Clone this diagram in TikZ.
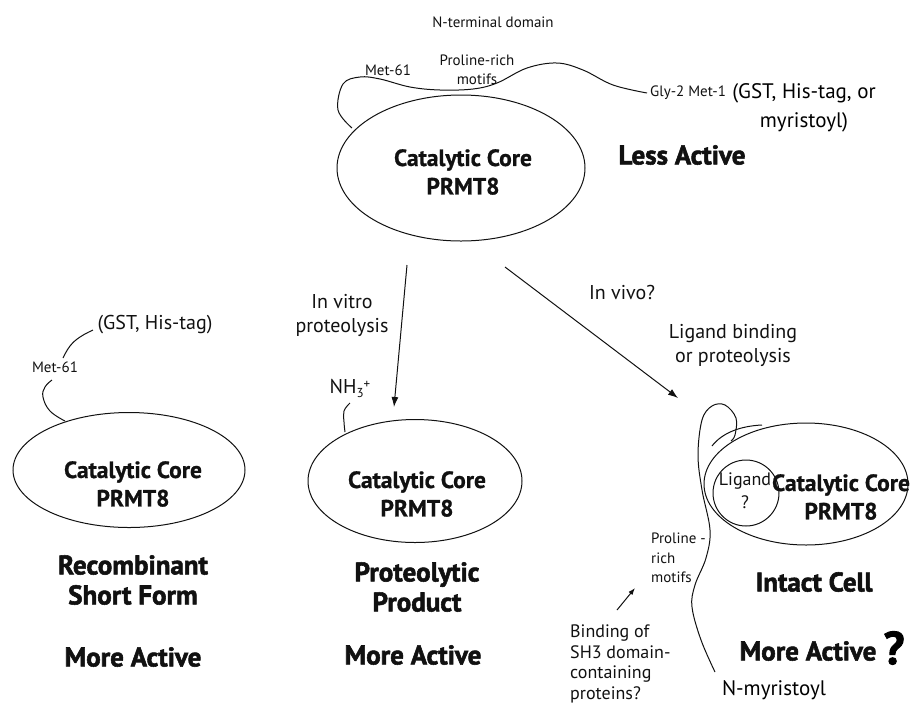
\documentclass[tikz,border=0pt]{standalone}
\usepackage{fontspec}
\setmainfont{PT Sans}
\newfontfamily\heavyfont{PT Sans Bold}[FakeBold=2]
\newfontfamily\corefont{PT Sans Bold}[FakeBold=0.8]
\usepackage{tikz}
\usetikzlibrary{positioning,shapes.geometric,arrows.meta}
\definecolor{Ink}{HTML}{111111}

\tikzset{
	core/.style={ellipse, draw=Ink, line width=1pt, inner sep=0pt},
	coretext/.style={font=\fontsize{23.5}{28.5}\corefont, align=center, inner sep=0pt, text=Ink},
	state/.style={font=\fontsize{27}{30}\heavyfont, align=center, inner sep=0pt, text=Ink},
	lbl/.style={font=\fontsize{20}{24}\selectfont, align=center, inner sep=0pt, text=Ink},
	tiny/.style={font=\fontsize{15}{19}\selectfont, align=center, inner sep=0pt, text=Ink},
	tail/.style={draw=Ink, line width=1pt},
	flow/.style={draw=Ink, line width=1pt, -{Latex[length=10pt,width=7pt]}},
}

\begin{document}
\begin{tikzpicture}[x=1pt,y=-1pt]
	\useasboundingbox (0,0) rectangle (910,705);
	
	\node[core, minimum width=248pt, minimum height=146pt] (topcore) at (461,168) {};
	\node[coretext] (toptext) at (463,172) {Catalytic Core\\PRMT8};
	\node[tiny] (nterm) at (493,22) {N-terminal domain};
	\node[tiny] (topmet) at (388,70) {Met-61};
	\node[tiny] (topprol) at (477,70) {Proline-rich\\motifs};
	\node[tiny, anchor=west] (glymet) at (650,93) {Gly-2 Met-1};
	\node[font=\fontsize{21}{29}\selectfont, align=center, inner sep=0pt] (toptag) at (804,108) {(GST, His-tag, or\\myristoyl)};
	\node[state] (less) at (682,155) {Less Active};
	\draw[tail] plot[smooth, tension=0.6] coordinates {(352,128) (338,110) (343,84) (360,77) (380,79) (410,87) (440,90) (473,89) (497,83) (527,68) (557,63) (583,70) (613,85) (647,93)};
	
	\coordinate (vitroS) at (407,265);
	\coordinate (vitroE) at (394,407);
	\coordinate (vivoS) at (505,267);
	\coordinate (vivoE) at (678,398);
	\draw[flow] (vitroS) -- (vitroE);
	\draw[flow] (vivoS) -- (vivoE);
	\node[lbl] (vitro) at (342,315) {In vitro\\proteolysis};
	\node[lbl] (vivo) at (622,292) {In vivo?};
	\node[lbl] (ligbind) at (733,345) {Ligand binding\\or proteolysis};
	
	\node[core, minimum width=232pt, minimum height=115pt] (leftcore) at (129,470) {};
	\node[coretext] (lefttext) at (133,484) {Catalytic Core\\PRMT8};
	\node[lbl] (lefttag) at (155,325) {(GST, His-tag)};
	\node[tiny] (leftmet) at (55,367) {Met-61};
	\draw[tail] plot[smooth, tension=0.7] coordinates {(65,421) (50,411) (43,397) (45,387) (52,380)};
	\draw[tail] plot[smooth, tension=0.7] coordinates {(63,358) (70,346) (80,337) (93,330)};
	\node[state] (recomb) at (133,580) {Recombinant\\Short Form};
	\node[state] (leftact) at (133,657) {More Active};
	
	\node[core, minimum width=214pt, minimum height=123pt] (midcore) at (415,481) {};
	\node[coretext] (midtext) at (417,494) {Catalytic Core\\PRMT8};
	\node[lbl] (nh) at (350,388) {NH\raisebox{-4pt}{\fontsize{13}{13}\selectfont 3}\raisebox{5pt}{\fontsize{13}{13}\selectfont +}};
	\draw[tail] plot[smooth, tension=0.7] coordinates {(350,403) (344,411) (344,422) (345,432)};
	\node[state] (proteo) at (417,587) {Proteolytic\\Product};
	\node[state] (midact) at (413,655) {More Active};
	
	\node[core, minimum width=204pt, minimum height=122pt] (rightcore) at (806,484) {};
	\node[circle, draw=Ink, line width=1pt, minimum size=66pt, inner sep=0pt] (ligand) at (746,493) {};
	\node[lbl, font=\fontsize{18}{23}\selectfont] (ligtext) at (745,491) {Ligand\\?};
	\node[coretext] (righttext) at (841,497) {Catalytic Core\\PRMT8};
	\draw[tail] plot[smooth, tension=0.6] coordinates {(715,672) (701,640) (692,607) (695,585) (706,558) (710,530) (702,490) (698,455) (702,420) (712,406) (725,405) (736,418) (735,435) (731,441)};
	\draw[tail] (712,446) .. controls (722,433) and (740,426) .. (762,425);
	\node[tiny, align=left, font=\fontsize{15}{19.5}\selectfont, anchor=west] (rightprol) at (651,558) {Proline -\\rich\\motifs};
	\coordinate (sh3S) at (617,610);
	\coordinate (sh3E) at (635,588);
	\draw[draw=Ink, line width=1pt, -{Latex[length=7pt,width=5pt]}] (sh3S) -- (sh3E);
	\node[lbl, align=left, font=\fontsize{18}{20.5}\selectfont, anchor=west] (sh3) at (570,664) {Binding of\\SH3 domain-\\containing\\proteins?};
	\node[state] (intact) at (814,582) {Intact Cell};
	\node[state] (rightact) at (808,651) {More Active};
	\node[font=\fontsize{46}{46}\heavyfont, inner sep=0pt] (query) at (894,648) {?};
	\node[font=\fontsize{21}{24}\selectfont, inner sep=0pt] (nmyr) at (774,690) {N-myristoyl};
\end{tikzpicture}
\end{document}
